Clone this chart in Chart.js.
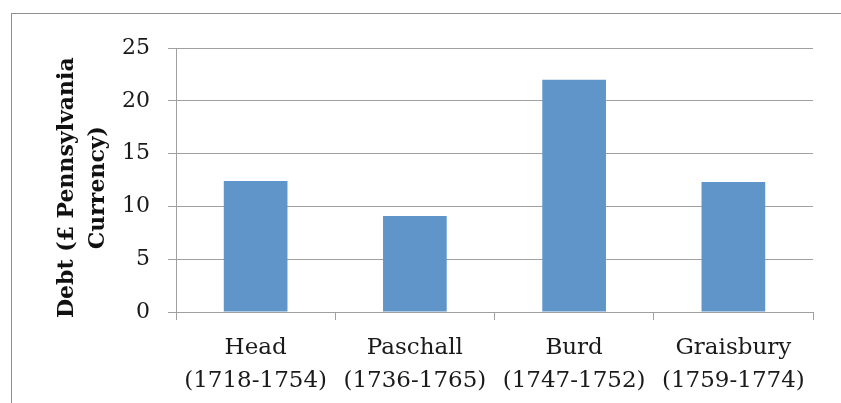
<!DOCTYPE html>
<html>
<head>
<meta charset="utf-8">
<script src="https://cdn.jsdelivr.net/npm/chart.js@4/dist/chart.umd.min.js"></script>
<style>
  html, body { margin: 0; padding: 0; background: #fff; overflow: hidden; }
  #wrap { position: relative; width: 841px; height: 403px; }
  #frame {
    position: absolute; left: 11px; top: 13px; width: 900px; height: 500px;
    border-top: 1px solid #8e8e8e; border-left: 1px solid #8e8e8e;
  }
  canvas { position: absolute; left: 0; top: 0; }
</style>
</head>
<body>
<div id="wrap">
  <div id="frame"></div>
  <canvas id="chart" width="841" height="403"></canvas>
</div>
<script>
// ================= DATA =================
const names = ["Head", "Paschall", "Burd", "Graisbury"];
const years = ["(1718-1754)", "(1736-1765)", "(1747-1752)", "(1759-1774)"];
const debt = [12.4, 9.1, 22.0, 12.3];
// trailing spaces nudge the rotated title a little lower, like the original
const yTitle = ["Debt (£ Pennsylvania  ", "Currency)  "];

const FONT = "'DejaVu Serif', serif";
const GRID = "#a0a0a0";

// ================= CHART =================
new Chart(document.getElementById("chart"), {
    type: "bar",
    data: {
        labels: names.map((n, i) => [n, years[i]]),
        datasets: [{
            data: debt,
            backgroundColor: "#6095c9",
            barPercentage: 0.4,
            categoryPercentage: 1.0
        }]
    },
    options: {
        responsive: false,
        animation: false,
        layout: { padding: { top: 48, right: 28, left: 0, bottom: 0 } },
        plugins: { legend: { display: false }, tooltip: { enabled: false } },
        scales: {
            x: {
                grid: { drawOnChartArea: false, tickLength: 8, color: GRID },
                border: { color: GRID },
                ticks: {
                    color: "#1a1a1a",
                    font: { family: FONT, size: 23, lineHeight: 1.45 },
                    padding: 11,
                    maxRotation: 0
                },
                afterFit: s => { s.height = 91; }
            },
            y: {
                min: 0,
                max: 25,
                ticks: {
                    stepSize: 5,
                    color: "#1a1a1a",
                    font: { family: FONT, size: 22 },
                    padding: 18
                },
                grid: { color: GRID, tickLength: 8 },
                border: { color: GRID },
                title: {
                    display: true,
                    text: yTitle,
                    color: "#111",
                    font: { family: FONT, size: 22, weight: "bold", lineHeight: 1.4 },
                    padding: { top: 52, bottom: 0 }
                },
                afterFit: s => { s.width = 176; }
            }
        }
    }
});
</script>
</body>
</html>
